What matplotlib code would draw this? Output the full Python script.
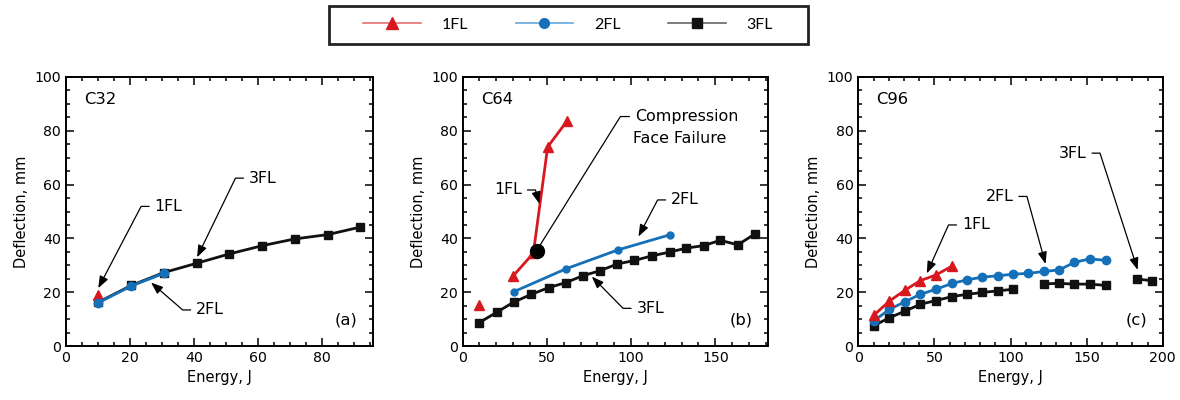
import matplotlib
matplotlib.use("Agg")
import matplotlib.pyplot as plt
import numpy as np
from matplotlib.ticker import MultipleLocator
from matplotlib.patches import Rectangle

plt.rcParams['font.family'] = ['DejaVu Sans']

RED = '#d7191f'
BLUE = '#1570b8'
BLACK = '#111111'

# ---- data (energy J, deflection mm) ----
# (a) C32
a_1fl_x = [10]
a_1fl_y = [19.0]
a_2fl_x = [10, 20.4, 30.6]
a_2fl_y = [16.0, 22.3, 27.0]
a_3fl_x = [10, 20.4, 30.6, 41, 51, 61.4, 71.5, 81.8, 92]
a_3fl_y = [16.2, 22.5, 27.3, 30.8, 34.2, 37.3, 39.8, 41.4, 44.2]

# (b) C64 - first 1FL point stands alone
b_1fl_x = [10, 20, 30.1, 42, 50.5, 61.8]
b_1fl_y = [15.3, np.nan, 26.1, 34.5, 74.0, 83.5]
b_2fl_x = [30.5, 61.4, 92.1, 122.8]
b_2fl_y = [20.2, 28.7, 35.7, 41.3]
b_3fl_x = [9.9, 20.2, 30.3, 40.8, 51.1, 61.4, 71.3, 81.6, 91.9, 102, 112.3,
           122.8, 132.8, 143, 153, 163.3, 173.6]
b_3fl_y = [8.7, 12.5, 16.3, 19.2, 21.7, 23.6, 26.1, 28.0, 30.5, 31.8, 33.5,
           34.9, 36.4, 37.3, 39.3, 37.6, 41.7]
b_fail_x = [44]
b_fail_y = [35.5]

# (c) C96 - gaps in 3FL where tests are missing
c_1fl_x = [10.3, 20.4, 30.8, 40.7, 51, 61.8]
c_1fl_y = [11.5, 16.7, 20.8, 24.3, 26.4, 29.8]
c_2fl_x = [10.3, 20.4, 30.8, 40.7, 51, 61.8, 71.4, 81.5, 91.6, 101.8, 111.6,
           121.9, 132, 142, 152.3, 162.9]
c_2fl_y = [9.4, 13.6, 16.5, 19.2, 21.1, 23.3, 24.6, 25.6, 26.1, 26.7, 27.0,
           27.7, 28.3, 31.1, 32.4, 31.8]
c_3fl_x = [10.3, 20.4, 30.8, 40.7, 51, 61.8, 71.4, 81.5, 91.6, 101.8, 111.8,
           121.9, 132, 142, 152.3, 162.9, 172.9, 182.9, 192.7]
c_3fl_y = [7.6, 10.5, 13.0, 15.5, 16.9, 18.4, 19.2, 19.9, 20.5, 21.1, np.nan,
           23.1, 23.3, 23.0, 23.0, 22.5, np.nan, 24.9, 24.3]

fig = plt.figure(figsize=(11.8, 4.0), dpi=100)
axes = [fig.add_axes([0.0559, 0.135, 0.2602, 0.6725]),
        fig.add_axes([0.392, 0.135, 0.2585, 0.6725]),
        fig.add_axes([0.7274, 0.135, 0.258, 0.6725])]

def series(ax, x, y, col, mk, ms):
    ax.plot(x, y, color=col, lw=2.0, marker=mk, ms=ms, mec=col, mfc=col, zorder=3)

def callout(ax, txt, tip, pos, side, arm=8, head=True, shrink=0):
    # leader starts at pos: short horizontal arm, then straight to the tip
    ang = 180 if side == 'left' else 0
    ax.annotate('', xy=tip, xytext=pos,
                arrowprops=dict(arrowstyle='-|>,head_length=0.45,head_width=0.17' if head else '-',
                                color='black', lw=0.9,
                                mutation_scale=16, shrinkA=0, shrinkB=shrink,
                                connectionstyle='arc,angleA=%d,armA=%d,angleB=0,armB=0,rad=0' % (ang, arm)))
    dx = 4 if side == 'left' else -4
    ax.annotate(txt, xy=pos, xytext=(dx, 0), textcoords='offset points',
                ha='left' if side == 'left' else 'right', va='center', fontsize=11.4)

# (a)
ax = axes[0]
series(ax, a_3fl_x, a_3fl_y, BLACK, 's', 6)
series(ax, a_1fl_x, a_1fl_y, RED, '^', 7)
series(ax, a_2fl_x, a_2fl_y, BLUE, 'o', 6)
callout(ax, '1FL', (10.1, 21.5), (26, 51.9), 'left')
callout(ax, '3FL', (41, 33.0), (55.5, 62.4), 'left')
callout(ax, '2FL', (26.6, 23.6), (39, 13.4), 'left')
ax.set_xlim(0, 96)
ax.xaxis.set_major_locator(MultipleLocator(20))
ax.xaxis.set_minor_locator(MultipleLocator(5))
ax.text(0.06, 0.9, 'C32', transform=ax.transAxes, fontsize=11.8)
ax.text(0.95, 0.08, '(a)', transform=ax.transAxes, fontsize=11.8, ha='right')

# (b)
ax = axes[1]
series(ax, b_3fl_x, b_3fl_y, BLACK, 's', 6)
series(ax, b_2fl_x, b_2fl_y, BLUE, 'o', 5)
series(ax, b_1fl_x, b_1fl_y, RED, '^', 7)
ax.plot(b_fail_x, b_fail_y, 'o', color='black', ms=10, zorder=4)
callout(ax, 'Compression', (b_fail_x[0], b_fail_y[0]), (99, 85.3), 'left', arm=9,
        head=False, shrink=4)
ax.text(101.4, 77.3, 'Face Failure', fontsize=11.4, va='center')
callout(ax, '1FL', (45.6, 52.9), (38.5, 58), 'right')
callout(ax, '2FL', (104.4, 40.7), (120.5, 54.3), 'left')
callout(ax, '3FL', (76.7, 25.8), (100, 14), 'left')
ax.set_xlim(0, 181)
ax.xaxis.set_major_locator(MultipleLocator(50))
ax.xaxis.set_minor_locator(MultipleLocator(10))
ax.text(0.06, 0.9, 'C64', transform=ax.transAxes, fontsize=11.8)
ax.text(0.95, 0.08, '(b)', transform=ax.transAxes, fontsize=11.8, ha='right')

# (c)
ax = axes[2]
series(ax, c_3fl_x, c_3fl_y, BLACK, 's', 6)
series(ax, c_2fl_x, c_2fl_y, BLUE, 'o', 6)
series(ax, c_1fl_x, c_1fl_y, RED, '^', 7)
callout(ax, '1FL', (45, 27), (64.5, 45), 'left')
callout(ax, '2FL', (123, 30.5), (105.5, 55.6), 'right')
callout(ax, '3FL', (183.5, 28.3), (153.5, 71.7), 'right')
ax.set_xlim(0, 200)
ax.xaxis.set_major_locator(MultipleLocator(50))
ax.xaxis.set_minor_locator(MultipleLocator(10))
ax.text(0.06, 0.9, 'C96', transform=ax.transAxes, fontsize=11.8)
ax.text(0.95, 0.08, '(c)', transform=ax.transAxes, fontsize=11.8, ha='right')

for ax in axes:
    ax.set_ylim(0, 100)
    ax.yaxis.set_major_locator(MultipleLocator(20))
    ax.yaxis.set_minor_locator(MultipleLocator(5))
    ax.tick_params(which='both', direction='in', top=True, right=True, labelsize=10.2, width=1.1)
    ax.tick_params(which='major', length=6)
    ax.tick_params(which='minor', length=3)
    for s in ax.spines.values():
        s.set_linewidth(1.4)
    ax.set_xlabel('Energy, J', fontsize=10.5)
    ax.set_ylabel('Deflection, mm', fontsize=10.5)

# legend across the top, in a hand-drawn box
fig.patches.append(Rectangle((329 / 1180, 1 - 44 / 400), 479 / 1180, 38 / 400,
                             transform=fig.transFigure, fill=False, lw=2, ec='#222222'))
handles = [plt.Line2D([], [], color='#e57373', lw=1.2, marker='^', ms=8, mfc=RED, mec=RED),
           plt.Line2D([], [], color='#64a8dc', lw=1.2, marker='o', ms=7, mfc=BLUE, mec=BLUE),
           plt.Line2D([], [], color='#666666', lw=1.2, marker='s', ms=7, mfc=BLACK, mec=BLACK)]
leg = fig.legend(handles, ['1FL', '2FL', '3FL'], ncol=3, loc='center left',
                 bbox_to_anchor=(363 / 1180, 1 - 25 / 400), frameon=False,
                 handlelength=3.6, columnspacing=3.0, handletextpad=1.3,
                 borderpad=0, borderaxespad=0, prop={'family': 'Lato', 'size': 11.5})

fig.savefig('out.png', dpi=100)
